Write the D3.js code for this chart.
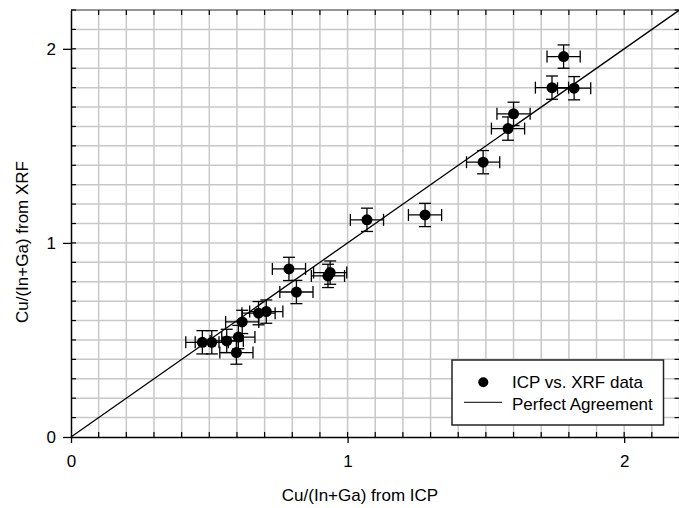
<!DOCTYPE html>
<html><head><meta charset="utf-8">
<script src="https://cdn.jsdelivr.net/npm/d3@7"></script>
<style>
html,body{margin:0;padding:0;background:#fff;}
svg{display:block;font-family:"Liberation Sans",Arial,sans-serif;}
</style></head>
<body>
<svg id="chart" width="679" height="508"></svg>
<script>
// ICP (x) vs XRF (y) Cu/(In+Ga) data
const icp = [1.781, 1.739, 1.819, 1.600, 1.580, 1.490, 1.280, 1.070,
             0.788, 0.815, 0.929, 0.937, 0.706, 0.678, 0.619, 0.605, 0.598, 0.563, 0.509, 0.475];
const xrf = [1.960, 1.800, 1.797, 1.665, 1.589, 1.416, 1.144, 1.119,
             0.866, 0.747, 0.830, 0.847, 0.646, 0.638, 0.593, 0.515, 0.435, 0.495, 0.488, 0.488];
const icpErr = [0.06,0.06,0.06,0.06,0.06,0.06,0.06,0.06,0.06,0.06,0.06,0.06,0.06,0.06,0.06,0.06,0.06,0.06,0.06,0.06];
const xrfErr = [0.06,0.06,0.06,0.06,0.06,0.06,0.06,0.06,0.06,0.06,0.06,0.06,0.06,0.06,0.06,0.06,0.06,0.06,0.06,0.06];
const majorTicks = [0, 1, 2];
const xTitle = "Cu/(In+Ga) from ICP";
const yTitle = "Cu/(In+Ga) from XRF";
const legendLabels = ["ICP vs. XRF data", "Perfect Agreement"];
const axisMax = 2.2;
const FS = 17;

const svg = d3.select("#chart");
const x = d3.scaleLinear().domain([0, axisMax]).range([71, 679.5]);
const y = d3.scaleLinear().domain([0, axisMax]).range([437, 10]);
const minor = d3.range(0, axisMax + 1e-9, 0.1).map(v => +v.toFixed(1));

// grid
const grid = svg.append("g").attr("stroke", "#c8c8c8").attr("stroke-width", 1.5);
minor.slice(1).forEach(v => {
  grid.append("line").attr("x1", x(v)).attr("x2", x(v)).attr("y1", y(0)).attr("y2", y(axisMax));
  grid.append("line").attr("x1", x(0)).attr("x2", x(axisMax)).attr("y1", y(v)).attr("y2", y(v));
});

// top frame
svg.append("line").attr("x1", x(0)).attr("x2", x(axisMax)).attr("y1", y(axisMax)).attr("y2", y(axisMax))
  .attr("stroke", "#808080").attr("stroke-width", 1.5);

// minor ticks (inward) on all four sides
const mt = svg.append("g").attr("stroke", "#000").attr("stroke-width", 1.2);
minor.slice(1).forEach(v => {
  mt.append("line").attr("x1", x(v)).attr("x2", x(v)).attr("y1", y(0)).attr("y2", y(0) - 5);
  mt.append("line").attr("x1", x(v)).attr("x2", x(v)).attr("y1", y(axisMax)).attr("y2", y(axisMax) + 5);
  mt.append("line").attr("x1", x(0)).attr("x2", x(0) + 5).attr("y1", y(v)).attr("y2", y(v));
  mt.append("line").attr("x1", x(axisMax)).attr("x2", x(axisMax) - 5).attr("y1", y(v)).attr("y2", y(v));
});

// axes with major outward ticks
const xAxis = svg.append("g").attr("transform", `translate(0,${y(0)})`)
  .call(d3.axisBottom(x).tickValues(majorTicks).tickFormat(d3.format("d")).tickSize(6).tickSizeOuter(0));
const yAxis = svg.append("g").attr("transform", `translate(${x(0)},0)`)
  .call(d3.axisLeft(y).tickValues(majorTicks).tickFormat(d3.format("d")).tickSize(8).tickSizeOuter(0));
[xAxis, yAxis].forEach(a => {
  a.select(".domain").attr("stroke", "#000").attr("stroke-width", 1.5);
  a.selectAll(".tick line").attr("stroke", "#000").attr("stroke-width", 1.3);
  a.selectAll(".tick text").attr("font-size", FS).attr("font-family", "Liberation Sans, Arial, sans-serif").attr("fill", "#000");
});
xAxis.selectAll(".tick text").attr("y", 18).attr("dy", "0.71em");
yAxis.selectAll(".tick text").attr("x", -15);

// perfect agreement line
svg.append("line").attr("x1", x(0)).attr("y1", y(0)).attr("x2", x(axisMax)).attr("y2", y(axisMax))
  .attr("stroke", "#000").attr("stroke-width", 1.3);

// error bars and points
const data = icp.map((v, i) => ({x: v, y: xrf[i], ex: icpErr[i], ey: xrfErr[i]}));
const eb = svg.append("g").attr("stroke", "#000").attr("stroke-width", 1.3);
const cap = 6;
data.forEach(d => {
  const cx = x(d.x), cy = y(d.y);
  eb.append("line").attr("x1", x(d.x - d.ex)).attr("x2", x(d.x + d.ex)).attr("y1", cy).attr("y2", cy);
  eb.append("line").attr("x1", x(d.x - d.ex)).attr("x2", x(d.x - d.ex)).attr("y1", cy - cap).attr("y2", cy + cap);
  eb.append("line").attr("x1", x(d.x + d.ex)).attr("x2", x(d.x + d.ex)).attr("y1", cy - cap).attr("y2", cy + cap);
  eb.append("line").attr("x1", cx).attr("x2", cx).attr("y1", y(d.y - d.ey)).attr("y2", y(d.y + d.ey));
  eb.append("line").attr("x1", cx - cap).attr("x2", cx + cap).attr("y1", y(d.y - d.ey)).attr("y2", y(d.y - d.ey));
  eb.append("line").attr("x1", cx - cap).attr("x2", cx + cap).attr("y1", y(d.y + d.ey)).attr("y2", y(d.y + d.ey));
});
svg.append("g").selectAll("circle").data(data).join("circle")
  .attr("cx", d => x(d.x)).attr("cy", d => y(d.y)).attr("r", 5.5).attr("fill", "#000");

// axis titles
svg.append("text").attr("x", 360).attr("y", 501).attr("text-anchor", "middle")
  .attr("font-size", FS).text(xTitle);
svg.append("text").attr("transform", "translate(28,242) rotate(-90)").attr("text-anchor", "middle")
  .attr("font-size", FS).text(yTitle);

// legend
const lg = svg.append("g");
lg.append("rect").attr("x", 452).attr("y", 360).attr("width", 211.5).attr("height", 65)
  .attr("fill", "#fff").attr("stroke", "#222").attr("stroke-width", 1.5);
lg.append("circle").attr("cx", 483.3).attr("cy", 382.3).attr("r", 5).attr("fill", "#000");
lg.append("line").attr("x1", 464).attr("x2", 502).attr("y1", 402.3).attr("y2", 402.3)
  .attr("stroke", "#333").attr("stroke-width", 1.3);
lg.append("text").attr("x", 512).attr("y", 388).attr("font-size", FS).text(legendLabels[0]);
lg.append("text").attr("x", 512).attr("y", 410).attr("font-size", FS).text(legendLabels[1]);
</script>
</body></html>
